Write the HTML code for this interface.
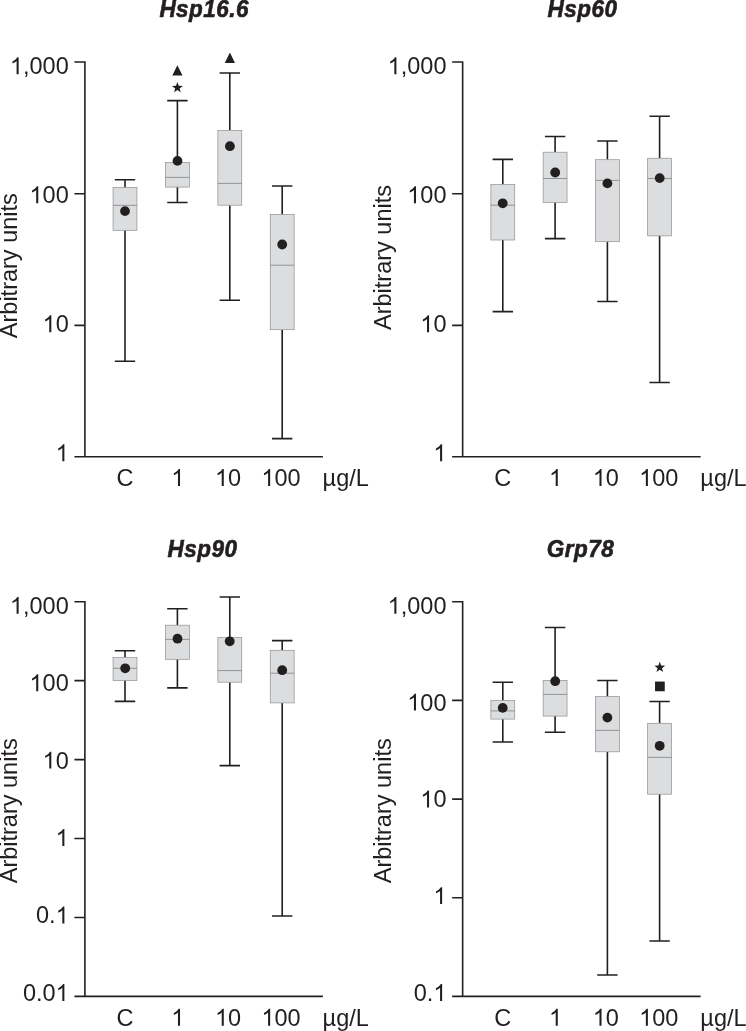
<!DOCTYPE html>
<html>
<head>
<meta charset="utf-8">
<title>Heat shock protein expression box plots</title>
<style>
html,body{margin:0;padding:0;background:#ffffff;}
body{width:746px;height:1031px;overflow:hidden;}
svg{display:block;will-change:transform;}
.t{font-family:"Liberation Sans",sans-serif;font-size:23.5px;fill:#231f20;}
.ttl{font-family:"Liberation Sans",sans-serif;font-size:22.5px;font-weight:bold;font-style:italic;fill:#231f20;stroke:#231f20;stroke-width:0.6px;letter-spacing:0.5px;}
</style>
</head>
<body>
<svg width="746" height="1031" viewBox="0 0 746 1031">
<rect x="0" y="0" width="746" height="1031" fill="#ffffff"/>
<!-- Hsp16.6 -->
<path d="M74.4 62.0H84.9V456.7M74.4 456.7H322.9M74.4 193.7H84.9M74.4 325.4H84.9" stroke="#231f20" stroke-width="1.6" fill="none" stroke-linejoin="miter"/>
<path transform="translate(9.9 74.2) scale(0.01147 -0.01147)" d="M763 0H583V1147Q518 1085 412.5 1023Q307 961 223 930V1104Q374 1175 487 1276Q600 1377 647 1472H763Z" fill="#231f20"/>
<text transform="translate(22.97 74.2) scale(1 1.04)" class="t">,000</text>
<path transform="translate(29.5 203.2) scale(0.01147 -0.01147)" d="M763 0H583V1147Q518 1085 412.5 1023Q307 961 223 930V1104Q374 1175 487 1276Q600 1377 647 1472H763Z" fill="#231f20"/>
<text transform="translate(42.57 203.2) scale(1 1.04)" class="t">00</text>
<path transform="translate(42.57 332.2) scale(0.01147 -0.01147)" d="M763 0H583V1147Q518 1085 412.5 1023Q307 961 223 930V1104Q374 1175 487 1276Q600 1377 647 1472H763Z" fill="#231f20"/>
<text transform="translate(55.63 332.2) scale(1 1.04)" class="t">0</text>
<path transform="translate(55.63 461.2) scale(0.01147 -0.01147)" d="M763 0H583V1147Q518 1085 412.5 1023Q307 961 223 930V1104Q374 1175 487 1276Q600 1377 647 1472H763Z" fill="#231f20"/>
<text transform="translate(204.25 16.6) scale(1 1.025)" text-anchor="middle" class="ttl">Hsp16.6</text>
<text transform="translate(116.62 485.9) scale(1 1.04)" class="t">C</text>
<path transform="translate(171.27 485.9) scale(0.01147 -0.01147)" d="M763 0H583V1147Q518 1085 412.5 1023Q307 961 223 930V1104Q374 1175 487 1276Q600 1377 647 1472H763Z" fill="#231f20"/>
<path transform="translate(215.03 485.9) scale(0.01147 -0.01147)" d="M763 0H583V1147Q518 1085 412.5 1023Q307 961 223 930V1104Q374 1175 487 1276Q600 1377 647 1472H763Z" fill="#231f20"/>
<text transform="translate(228.1 485.9) scale(1 1.04)" class="t">0</text>
<path transform="translate(261.4 485.9) scale(0.01147 -0.01147)" d="M763 0H583V1147Q518 1085 412.5 1023Q307 961 223 930V1104Q374 1175 487 1276Q600 1377 647 1472H763Z" fill="#231f20"/>
<text transform="translate(274.47 485.9) scale(1 1.04)" class="t">00</text>
<text x="322.6" y="485.9" class="t">µg</text>
<text transform="translate(349.2 485.9) scale(1 1.04)" class="t">/L</text>
<g transform="translate(17 265.7) rotate(-90)"><text transform="translate(-72.47 0) scale(1 1.04)" class="t">A</text><text x="-56.8" y="0" class="t">rbitrary units</text></g>
<path d="M125 179.8V187.4M125 230.3V361.2M114.8 179.8H135.2M114.8 361.2H135.2" stroke="#231f20" stroke-width="1.6" fill="none"/>
<rect x="113.05" y="187.4" width="23.9" height="42.9" fill="#dcddde" stroke="#8e9093" stroke-width="0.7"/>
<path d="M113.05 205.3H136.95" stroke="#797b7e" stroke-width="0.75" fill="none"/>
<circle cx="125" cy="211.1" r="4.9" fill="#231f20"/>
<path d="M177.4 100.6V162.4M177.4 187.1V202.5M167.2 100.6H187.6M167.2 202.5H187.6" stroke="#231f20" stroke-width="1.6" fill="none"/>
<rect x="165.45" y="162.4" width="23.9" height="24.7" fill="#dcddde" stroke="#8e9093" stroke-width="0.7"/>
<path d="M165.45 177.4H189.35" stroke="#797b7e" stroke-width="0.75" fill="none"/>
<circle cx="177.5" cy="160.9" r="4.9" fill="#231f20"/>
<path d="M229.8 73.0V130.5M229.8 205.2V300.2M219.6 73.0H240M219.6 300.2H240" stroke="#231f20" stroke-width="1.6" fill="none"/>
<rect x="217.85" y="130.5" width="23.9" height="74.7" fill="#dcddde" stroke="#8e9093" stroke-width="0.7"/>
<path d="M217.85 183.4H241.75" stroke="#797b7e" stroke-width="0.75" fill="none"/>
<circle cx="229.9" cy="146.2" r="4.9" fill="#231f20"/>
<path d="M282.2 186.0V214.5M282.2 329.7V438.6M272 186.0H292.4M272 438.6H292.4" stroke="#231f20" stroke-width="1.6" fill="none"/>
<rect x="270.25" y="214.5" width="23.9" height="115.2" fill="#dcddde" stroke="#8e9093" stroke-width="0.7"/>
<path d="M270.25 265.2H294.15" stroke="#797b7e" stroke-width="0.75" fill="none"/>
<circle cx="282.2" cy="244.5" r="4.9" fill="#231f20"/>
<path d="M177.4 65.2L182.5 75.6H172.3Z" fill="#231f20"/>
<polygon points="177.40,82.00 178.78,85.80 182.82,85.94 179.63,88.43 180.75,92.31 177.40,90.05 174.05,92.31 175.17,88.43 171.98,85.94 176.02,85.80" fill="#231f20"/>
<path d="M229.9 52.5L235 62.9H224.8Z" fill="#231f20"/>
<!-- Hsp60 -->
<path d="M452.15 62.0H462.65V456.7M452.15 456.7H700.65M452.15 193.7H462.65M452.15 325.4H462.65" stroke="#231f20" stroke-width="1.6" fill="none" stroke-linejoin="miter"/>
<path transform="translate(387.65 74.2) scale(0.01147 -0.01147)" d="M763 0H583V1147Q518 1085 412.5 1023Q307 961 223 930V1104Q374 1175 487 1276Q600 1377 647 1472H763Z" fill="#231f20"/>
<text transform="translate(400.72 74.2) scale(1 1.04)" class="t">,000</text>
<path transform="translate(407.25 203.2) scale(0.01147 -0.01147)" d="M763 0H583V1147Q518 1085 412.5 1023Q307 961 223 930V1104Q374 1175 487 1276Q600 1377 647 1472H763Z" fill="#231f20"/>
<text transform="translate(420.32 203.2) scale(1 1.04)" class="t">00</text>
<path transform="translate(420.32 332.2) scale(0.01147 -0.01147)" d="M763 0H583V1147Q518 1085 412.5 1023Q307 961 223 930V1104Q374 1175 487 1276Q600 1377 647 1472H763Z" fill="#231f20"/>
<text transform="translate(433.38 332.2) scale(1 1.04)" class="t">0</text>
<path transform="translate(433.38 461.2) scale(0.01147 -0.01147)" d="M763 0H583V1147Q518 1085 412.5 1023Q307 961 223 930V1104Q374 1175 487 1276Q600 1377 647 1472H763Z" fill="#231f20"/>
<text transform="translate(582.55 16.75) scale(1 1.025)" text-anchor="middle" class="ttl">Hsp60</text>
<text transform="translate(494.37 485.9) scale(1 1.04)" class="t">C</text>
<path transform="translate(549.02 485.9) scale(0.01147 -0.01147)" d="M763 0H583V1147Q518 1085 412.5 1023Q307 961 223 930V1104Q374 1175 487 1276Q600 1377 647 1472H763Z" fill="#231f20"/>
<path transform="translate(592.78 485.9) scale(0.01147 -0.01147)" d="M763 0H583V1147Q518 1085 412.5 1023Q307 961 223 930V1104Q374 1175 487 1276Q600 1377 647 1472H763Z" fill="#231f20"/>
<text transform="translate(605.85 485.9) scale(1 1.04)" class="t">0</text>
<path transform="translate(639.15 485.9) scale(0.01147 -0.01147)" d="M763 0H583V1147Q518 1085 412.5 1023Q307 961 223 930V1104Q374 1175 487 1276Q600 1377 647 1472H763Z" fill="#231f20"/>
<text transform="translate(652.22 485.9) scale(1 1.04)" class="t">00</text>
<text x="700.35" y="485.9" class="t">µg</text>
<text transform="translate(726.95 485.9) scale(1 1.04)" class="t">/L</text>
<g transform="translate(391.2 257.5) rotate(-90)"><text transform="translate(-72.47 0) scale(1 1.04)" class="t">A</text><text x="-56.8" y="0" class="t">rbitrary units</text></g>
<path d="M502.8 159.4V184.5M502.8 240.0V311.6M492.6 159.4H513M492.6 311.6H513" stroke="#231f20" stroke-width="1.6" fill="none"/>
<rect x="490.85" y="184.5" width="23.9" height="55.5" fill="#dcddde" stroke="#8e9093" stroke-width="0.7"/>
<path d="M490.85 205.2H514.75" stroke="#797b7e" stroke-width="0.75" fill="none"/>
<circle cx="502.7" cy="203.3" r="4.9" fill="#231f20"/>
<path d="M555.1 136.5V152.2M555.1 202.5V238.6M544.9 136.5H565.3M544.9 238.6H565.3" stroke="#231f20" stroke-width="1.6" fill="none"/>
<rect x="543.15" y="152.2" width="23.9" height="50.3" fill="#dcddde" stroke="#8e9093" stroke-width="0.7"/>
<path d="M543.15 178.5H567.05" stroke="#797b7e" stroke-width="0.75" fill="none"/>
<circle cx="555.2" cy="172.5" r="4.9" fill="#231f20"/>
<path d="M607.4 141.0V159.7M607.4 241.7V301.5M597.2 141.0H617.6M597.2 301.5H617.6" stroke="#231f20" stroke-width="1.6" fill="none"/>
<rect x="595.45" y="159.7" width="23.9" height="82" fill="#dcddde" stroke="#8e9093" stroke-width="0.7"/>
<path d="M595.45 180.4H619.35" stroke="#797b7e" stroke-width="0.75" fill="none"/>
<circle cx="607.4" cy="183.4" r="4.9" fill="#231f20"/>
<path d="M659.6 116.2V158.2M659.6 235.9V382.5M649.4 116.2H669.8M649.4 382.5H669.8" stroke="#231f20" stroke-width="1.6" fill="none"/>
<rect x="647.65" y="158.2" width="23.9" height="77.7" fill="#dcddde" stroke="#8e9093" stroke-width="0.7"/>
<path d="M647.65 178.5H671.55" stroke="#797b7e" stroke-width="0.75" fill="none"/>
<circle cx="659.7" cy="178.1" r="4.9" fill="#231f20"/>
<!-- Hsp90 -->
<path d="M74.4 601.7H84.9V996.4M74.4 996.4H322.9M74.4 680.6H84.9M74.4 759.6H84.9M74.4 838.5H84.9M74.4 917.5H84.9" stroke="#231f20" stroke-width="1.6" fill="none" stroke-linejoin="miter"/>
<path transform="translate(9.9 613.8) scale(0.01147 -0.01147)" d="M763 0H583V1147Q518 1085 412.5 1023Q307 961 223 930V1104Q374 1175 487 1276Q600 1377 647 1472H763Z" fill="#231f20"/>
<text transform="translate(22.97 613.8) scale(1 1.04)" class="t">,000</text>
<path transform="translate(29.5 691.2) scale(0.01147 -0.01147)" d="M763 0H583V1147Q518 1085 412.5 1023Q307 961 223 930V1104Q374 1175 487 1276Q600 1377 647 1472H763Z" fill="#231f20"/>
<text transform="translate(42.57 691.2) scale(1 1.04)" class="t">00</text>
<path transform="translate(42.57 768.6) scale(0.01147 -0.01147)" d="M763 0H583V1147Q518 1085 412.5 1023Q307 961 223 930V1104Q374 1175 487 1276Q600 1377 647 1472H763Z" fill="#231f20"/>
<text transform="translate(55.63 768.6) scale(1 1.04)" class="t">0</text>
<path transform="translate(55.63 846) scale(0.01147 -0.01147)" d="M763 0H583V1147Q518 1085 412.5 1023Q307 961 223 930V1104Q374 1175 487 1276Q600 1377 647 1472H763Z" fill="#231f20"/>
<text transform="translate(36.03 923.4) scale(1 1.04)" class="t">0.</text>
<path transform="translate(55.63 923.4) scale(0.01147 -0.01147)" d="M763 0H583V1147Q518 1085 412.5 1023Q307 961 223 930V1104Q374 1175 487 1276Q600 1377 647 1472H763Z" fill="#231f20"/>
<text transform="translate(22.97 1000.9) scale(1 1.04)" class="t">0.0</text>
<path transform="translate(55.63 1000.9) scale(0.01147 -0.01147)" d="M763 0H583V1147Q518 1085 412.5 1023Q307 961 223 930V1104Q374 1175 487 1276Q600 1377 647 1472H763Z" fill="#231f20"/>
<text transform="translate(202.45 557.4) scale(1 1.025)" text-anchor="middle" class="ttl">Hsp90</text>
<text transform="translate(116.62 1025.7) scale(1 1.04)" class="t">C</text>
<path transform="translate(171.27 1025.7) scale(0.01147 -0.01147)" d="M763 0H583V1147Q518 1085 412.5 1023Q307 961 223 930V1104Q374 1175 487 1276Q600 1377 647 1472H763Z" fill="#231f20"/>
<path transform="translate(215.03 1025.7) scale(0.01147 -0.01147)" d="M763 0H583V1147Q518 1085 412.5 1023Q307 961 223 930V1104Q374 1175 487 1276Q600 1377 647 1472H763Z" fill="#231f20"/>
<text transform="translate(228.1 1025.7) scale(1 1.04)" class="t">0</text>
<path transform="translate(261.4 1025.7) scale(0.01147 -0.01147)" d="M763 0H583V1147Q518 1085 412.5 1023Q307 961 223 930V1104Q374 1175 487 1276Q600 1377 647 1472H763Z" fill="#231f20"/>
<text transform="translate(274.47 1025.7) scale(1 1.04)" class="t">00</text>
<text x="322.6" y="1025.7" class="t">µg</text>
<text transform="translate(349.2 1025.7) scale(1 1.04)" class="t">/L</text>
<g transform="translate(17 810.8) rotate(-90)"><text transform="translate(-72.47 0) scale(1 1.04)" class="t">A</text><text x="-56.8" y="0" class="t">rbitrary units</text></g>
<path d="M125 650.7V657.5M125 680.4V701.4M114.8 650.7H135.2M114.8 701.4H135.2" stroke="#231f20" stroke-width="1.6" fill="none"/>
<rect x="113.05" y="657.5" width="23.9" height="22.9" fill="#dcddde" stroke="#8e9093" stroke-width="0.7"/>
<path d="M113.05 668.3H136.95" stroke="#797b7e" stroke-width="0.75" fill="none"/>
<circle cx="125.2" cy="668.3" r="4.9" fill="#231f20"/>
<path d="M177.4 608.7V625.2M177.4 659.3V687.9M167.2 608.7H187.6M167.2 687.9H187.6" stroke="#231f20" stroke-width="1.6" fill="none"/>
<rect x="165.45" y="625.2" width="23.9" height="34.1" fill="#dcddde" stroke="#8e9093" stroke-width="0.7"/>
<path d="M165.45 639.4H189.35" stroke="#797b7e" stroke-width="0.75" fill="none"/>
<circle cx="177.5" cy="638.7" r="4.9" fill="#231f20"/>
<path d="M229.8 597.0V637.6M229.8 682.2V765.6M219.6 597.0H240M219.6 765.6H240" stroke="#231f20" stroke-width="1.6" fill="none"/>
<rect x="217.85" y="637.6" width="23.9" height="44.6" fill="#dcddde" stroke="#8e9093" stroke-width="0.7"/>
<path d="M217.85 670.6H241.75" stroke="#797b7e" stroke-width="0.75" fill="none"/>
<circle cx="229.7" cy="641.3" r="4.9" fill="#231f20"/>
<path d="M282.2 640.6V650.3M282.2 702.9V916.0M272 640.6H292.4M272 916.0H292.4" stroke="#231f20" stroke-width="1.6" fill="none"/>
<rect x="270.25" y="650.3" width="23.9" height="52.6" fill="#dcddde" stroke="#8e9093" stroke-width="0.7"/>
<path d="M270.25 673.2H294.15" stroke="#797b7e" stroke-width="0.75" fill="none"/>
<circle cx="282.2" cy="670.2" r="4.9" fill="#231f20"/>
<!-- Grp78 -->
<path d="M452.15 601.7H462.65V996.4M452.15 996.4H700.65M452.15 700.4H462.65M452.15 799.1H462.65M452.15 897.7H462.65" stroke="#231f20" stroke-width="1.6" fill="none" stroke-linejoin="miter"/>
<path transform="translate(387.65 613.8) scale(0.01147 -0.01147)" d="M763 0H583V1147Q518 1085 412.5 1023Q307 961 223 930V1104Q374 1175 487 1276Q600 1377 647 1472H763Z" fill="#231f20"/>
<text transform="translate(400.72 613.8) scale(1 1.04)" class="t">,000</text>
<path transform="translate(407.25 710.6) scale(0.01147 -0.01147)" d="M763 0H583V1147Q518 1085 412.5 1023Q307 961 223 930V1104Q374 1175 487 1276Q600 1377 647 1472H763Z" fill="#231f20"/>
<text transform="translate(420.32 710.6) scale(1 1.04)" class="t">00</text>
<path transform="translate(420.32 807.4) scale(0.01147 -0.01147)" d="M763 0H583V1147Q518 1085 412.5 1023Q307 961 223 930V1104Q374 1175 487 1276Q600 1377 647 1472H763Z" fill="#231f20"/>
<text transform="translate(433.38 807.4) scale(1 1.04)" class="t">0</text>
<path transform="translate(433.38 904.1) scale(0.01147 -0.01147)" d="M763 0H583V1147Q518 1085 412.5 1023Q307 961 223 930V1104Q374 1175 487 1276Q600 1377 647 1472H763Z" fill="#231f20"/>
<text transform="translate(413.78 1000.9) scale(1 1.04)" class="t">0.</text>
<path transform="translate(433.38 1000.9) scale(0.01147 -0.01147)" d="M763 0H583V1147Q518 1085 412.5 1023Q307 961 223 930V1104Q374 1175 487 1276Q600 1377 647 1472H763Z" fill="#231f20"/>
<text transform="translate(580.55 557.4) scale(1 1.025)" text-anchor="middle" class="ttl">Grp78</text>
<text transform="translate(494.37 1025.7) scale(1 1.04)" class="t">C</text>
<path transform="translate(549.02 1025.7) scale(0.01147 -0.01147)" d="M763 0H583V1147Q518 1085 412.5 1023Q307 961 223 930V1104Q374 1175 487 1276Q600 1377 647 1472H763Z" fill="#231f20"/>
<path transform="translate(592.78 1025.7) scale(0.01147 -0.01147)" d="M763 0H583V1147Q518 1085 412.5 1023Q307 961 223 930V1104Q374 1175 487 1276Q600 1377 647 1472H763Z" fill="#231f20"/>
<text transform="translate(605.85 1025.7) scale(1 1.04)" class="t">0</text>
<path transform="translate(639.15 1025.7) scale(0.01147 -0.01147)" d="M763 0H583V1147Q518 1085 412.5 1023Q307 961 223 930V1104Q374 1175 487 1276Q600 1377 647 1472H763Z" fill="#231f20"/>
<text transform="translate(652.22 1025.7) scale(1 1.04)" class="t">00</text>
<text x="700.35" y="1025.7" class="t">µg</text>
<text transform="translate(726.95 1025.7) scale(1 1.04)" class="t">/L</text>
<g transform="translate(391.2 810.8) rotate(-90)"><text transform="translate(-72.47 0) scale(1 1.04)" class="t">A</text><text x="-56.8" y="0" class="t">rbitrary units</text></g>
<path d="M502.8 682.3V700.4M502.8 719.1V742.0M492.6 682.3H513M492.6 742.0H513" stroke="#231f20" stroke-width="1.6" fill="none"/>
<rect x="490.85" y="700.4" width="23.9" height="18.7" fill="#dcddde" stroke="#8e9093" stroke-width="0.7"/>
<path d="M490.85 710.9H514.75" stroke="#797b7e" stroke-width="0.75" fill="none"/>
<circle cx="502.7" cy="707.9" r="4.9" fill="#231f20"/>
<path d="M555.1 627.5V680.5M555.1 716.1V732.3M544.9 627.5H565.3M544.9 732.3H565.3" stroke="#231f20" stroke-width="1.6" fill="none"/>
<rect x="543.15" y="680.5" width="23.9" height="35.6" fill="#dcddde" stroke="#8e9093" stroke-width="0.7"/>
<path d="M543.15 694.4H567.05" stroke="#797b7e" stroke-width="0.75" fill="none"/>
<circle cx="555.2" cy="681.2" r="4.9" fill="#231f20"/>
<path d="M607.4 680.5V696.6M607.4 751.8V975.0M597.2 680.5H617.6M597.2 975.0H617.6" stroke="#231f20" stroke-width="1.6" fill="none"/>
<rect x="595.45" y="696.6" width="23.9" height="55.2" fill="#dcddde" stroke="#8e9093" stroke-width="0.7"/>
<path d="M595.45 730.4H619.35" stroke="#797b7e" stroke-width="0.75" fill="none"/>
<circle cx="607.4" cy="717.6" r="4.9" fill="#231f20"/>
<path d="M659.6 701.5V723.3M659.6 794.2V941.0M649.4 701.5H669.8M649.4 941.0H669.8" stroke="#231f20" stroke-width="1.6" fill="none"/>
<rect x="647.65" y="723.3" width="23.9" height="70.9" fill="#dcddde" stroke="#8e9093" stroke-width="0.7"/>
<path d="M647.65 757.4H671.55" stroke="#797b7e" stroke-width="0.75" fill="none"/>
<circle cx="659.7" cy="745.8" r="4.9" fill="#231f20"/>
<polygon points="659.80,661.80 661.18,665.60 665.22,665.74 662.03,668.23 663.15,672.11 659.80,669.85 656.45,672.11 657.57,668.23 654.38,665.74 658.42,665.60" fill="#231f20"/>
<rect x="655.05" y="681.55" width="9.7" height="9.7" fill="#231f20"/>
</svg>
</body>
</html>
